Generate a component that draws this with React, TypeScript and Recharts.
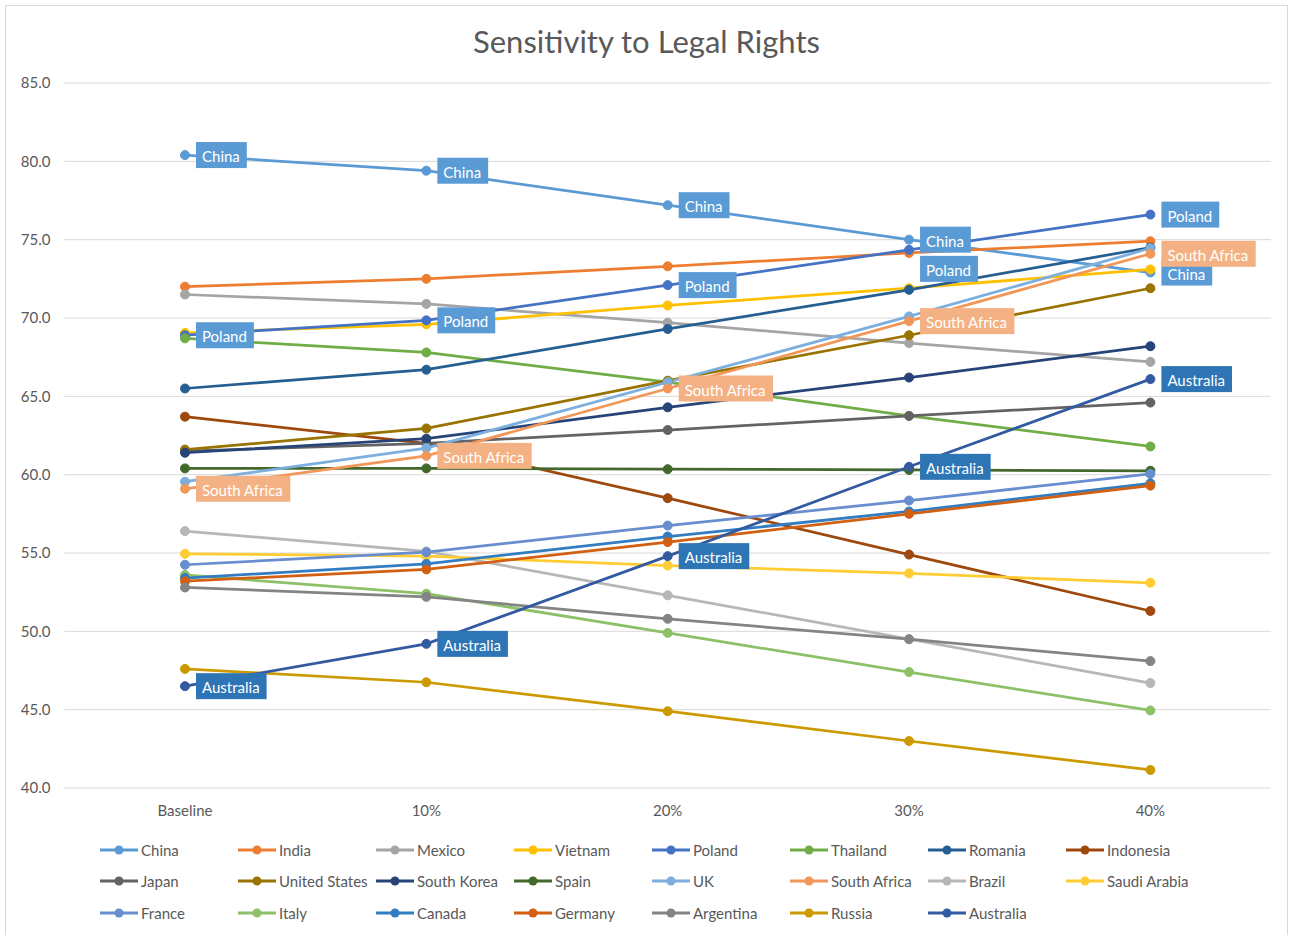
import { CartesianGrid, LabelList, Legend, Line, LineChart, XAxis, YAxis } from "recharts"

// Values
const categories = ["Baseline", "10%", "20%", "30%", "40%"]
const yTicks = [40, 45, 50, 55, 60, 65, 70, 75, 80, 85]

const china = [80.4, 79.4, 77.2, 75.0, 72.9]
const india = [72.0, 72.5, 73.3, 74.15, 74.9]
const mexico = [71.5, 70.9, 69.7, 68.4, 67.2]
const vietnam = [69.05, 69.6, 70.8, 71.9, 73.1]
const poland = [68.9, 69.85, 72.1, 74.35, 76.6]
const thailand = [68.7, 67.8, 65.9, 63.75, 61.8]
const romania = [65.5, 66.7, 69.3, 71.8, 74.5]
const indonesia = [63.7, 62.0, 58.5, 54.9, 51.3]
const japan = [61.5, 62.0, 62.85, 63.75, 64.6]
const unitedStates = [61.6, 62.95, 66.0, 68.9, 71.9]
const southKorea = [61.4, 62.3, 64.3, 66.2, 68.2]
const spain = [60.4, 60.4, 60.35, 60.3, 60.25]
const uk = [59.55, 61.7, 65.9, 70.1, 74.45]
const southAfrica = [59.1, 61.2, 65.5, 69.8, 74.1]
const brazil = [56.4, 55.1, 52.3, 49.5, 46.7]
const saudiArabia = [54.95, 54.8, 54.2, 53.7, 53.1]
const france = [54.25, 55.05, 56.75, 58.35, 60.05]
const italy = [53.6, 52.4, 49.9, 47.4, 44.95]
const canada = [53.4, 54.3, 56.05, 57.65, 59.45]
const germany = [53.2, 53.95, 55.7, 57.5, 59.3]
const argentina = [52.8, 52.2, 50.8, 49.5, 48.1]
const russia = [47.6, 46.75, 44.9, 43.0, 41.15]
const australia = [46.5, 49.2, 54.8, 60.5, 66.1]

const series = [
  { name: "China", values: china, color: "#5b9bd5" },
  { name: "India", values: india, color: "#ed7d31" },
  { name: "Mexico", values: mexico, color: "#a5a5a5" },
  { name: "Vietnam", values: vietnam, color: "#ffc000" },
  { name: "Poland", values: poland, color: "#4472c4" },
  { name: "Thailand", values: thailand, color: "#70ad47" },
  { name: "Romania", values: romania, color: "#255e91" },
  { name: "Indonesia", values: indonesia, color: "#9e480e" },
  { name: "Japan", values: japan, color: "#636363" },
  { name: "United States", values: unitedStates, color: "#997300" },
  { name: "South Korea", values: southKorea, color: "#264478" },
  { name: "Spain", values: spain, color: "#43682b" },
  { name: "UK", values: uk, color: "#7cafdd" },
  { name: "South Africa", values: southAfrica, color: "#f1975a" },
  { name: "Brazil", values: brazil, color: "#b7b7b7" },
  { name: "Saudi Arabia", values: saudiArabia, color: "#ffcd33" },
  { name: "France", values: france, color: "#698ed0" },
  { name: "Italy", values: italy, color: "#8cc168" },
  { name: "Canada", values: canada, color: "#327dc2" },
  { name: "Germany", values: germany, color: "#d26012" },
  { name: "Argentina", values: argentina, color: "#848484" },
  { name: "Russia", values: russia, color: "#cc9a00" },
  { name: "Australia", values: australia, color: "#335aa1" },
]

const data = categories.map((cat, i) => {
  const row: Record<string, string | number> = { cat }
  series.forEach((s) => {
    row[s.name] = s.values[i]
  })
  return row
})

// series that carry boxed data labels, with the box colour
const labelled = [
  { name: "China", fill: "#5b9bd5" },
  { name: "Poland", fill: "#5b9bd5" },
  { name: "South Africa", fill: "#f4b183" },
  { name: "Australia", fill: "#2e75b6" },
]
// Poland's 30% label sits below China's in the original
const labelNudge: Record<string, Record<number, number>> = { Poland: { 3: 19 } }

const FONT = "Lato, 'Open Sans', sans-serif"
const FS = 15
const TEXT = "#595959"

let ctx: CanvasRenderingContext2D | null = null
function textWidth(s: string) {
  if (!ctx) ctx = document.createElement("canvas").getContext("2d")
  if (!ctx) return s.length * 8
  ctx.font = `${FS}px Lato`
  return ctx.measureText(s).width
}

function makeLabel(name: string, fill: string) {
  return (props: any) => {
    const { x, y, index } = props
    if (x == null || y == null) return null
    const dy = labelNudge[name]?.[index] ?? 0
    const w = textWidth(name) + 13
    const cy = Number(y) + dy
    const left = Number(x) + 11
    return (
      <g>
        <rect x={left} y={cy - 13} width={w} height={26} fill={fill} />
        <text x={left + 6} y={cy + 1} fill="#fff" fontSize={FS} fontFamily={FONT} dominantBaseline="central">
          {name}
        </text>
      </g>
    )
  }
}

function LegendGrid() {
  return (
    <div
      style={{
        display: "grid",
        gridTemplateColumns: "repeat(8, 138px)",
        gridAutoRows: "31.5px",
        paddingLeft: 94,
        height: 96,
        boxSizing: "border-box",
        fontFamily: FONT,
      }}
    >
      {series.map((s) => (
        <div key={s.name} style={{ display: "flex", alignItems: "center", fontSize: FS, color: TEXT, whiteSpace: "nowrap" }}>
          <svg width={38} height={10} style={{ marginRight: 3, flexShrink: 0 }}>
            <line x1={0} y1={5} x2={38} y2={5} stroke={s.color} strokeWidth={3} />
            <circle cx={19} cy={5} r={4.5} fill={s.color} />
          </svg>
          {s.name}
        </div>
      ))}
    </div>
  )
}

export default function App() {
  return (
    <div
      style={{
        position: "absolute",
        left: 5,
        top: 5,
        width: 1281,
        height: 934,
        border: "1px solid #d9d9d9",
        background: "#fff",
        fontFamily: FONT,
      }}
    >
      <div
        style={{
          position: "absolute",
          top: 16,
          left: 0,
          width: "100%",
          textAlign: "center",
          fontSize: 31,
          color: TEXT,
          fontFamily: FONT,
        }}
      >
        Sensitivity to Legal Rights
      </div>
      <LineChart width={1281} height={934} data={data} margin={{ top: 77, right: 16, left: 0, bottom: 10 }}>
        <CartesianGrid vertical={false} stroke="#d9d9d9" />
        <XAxis
          dataKey="cat"
          padding={{ left: 120.6, right: 120.6 }}
          axisLine={false}
          tickLine={false}
          tickMargin={11}
          height={46}
          tick={{ fill: TEXT, fontSize: FS, fontFamily: FONT }}
        />
        <YAxis
          domain={[40, 85]}
          ticks={yTicks}
          width={58.4}
          axisLine={false}
          tickLine={false}
          tickMargin={8}
          tickFormatter={(v: number) => v.toFixed(1)}
          tick={{ fill: TEXT, fontSize: FS, fontFamily: FONT }}
        />
        {series.map((s) => (
          <Line
            key={s.name}
            dataKey={s.name}
            stroke={s.color}
            strokeWidth={2.75}
            dot={{ r: 4.5, fill: s.color, stroke: s.color, strokeWidth: 1 }}
            activeDot={false}
            isAnimationActive={false}
          />
        ))}
        {labelled.map((l) => (
          <Line
            key={`${l.name}-labels`}
            dataKey={l.name}
            stroke="none"
            dot={false}
            activeDot={false}
            legendType="none"
            isAnimationActive={false}
          >
            <LabelList dataKey={l.name} content={makeLabel(l.name, l.fill)} />
          </Line>
        ))}
        <Legend verticalAlign="bottom" content={() => <LegendGrid />} wrapperStyle={{ left: 0, width: 1281, bottom: 10 }} />
      </LineChart>
    </div>
  )
}
